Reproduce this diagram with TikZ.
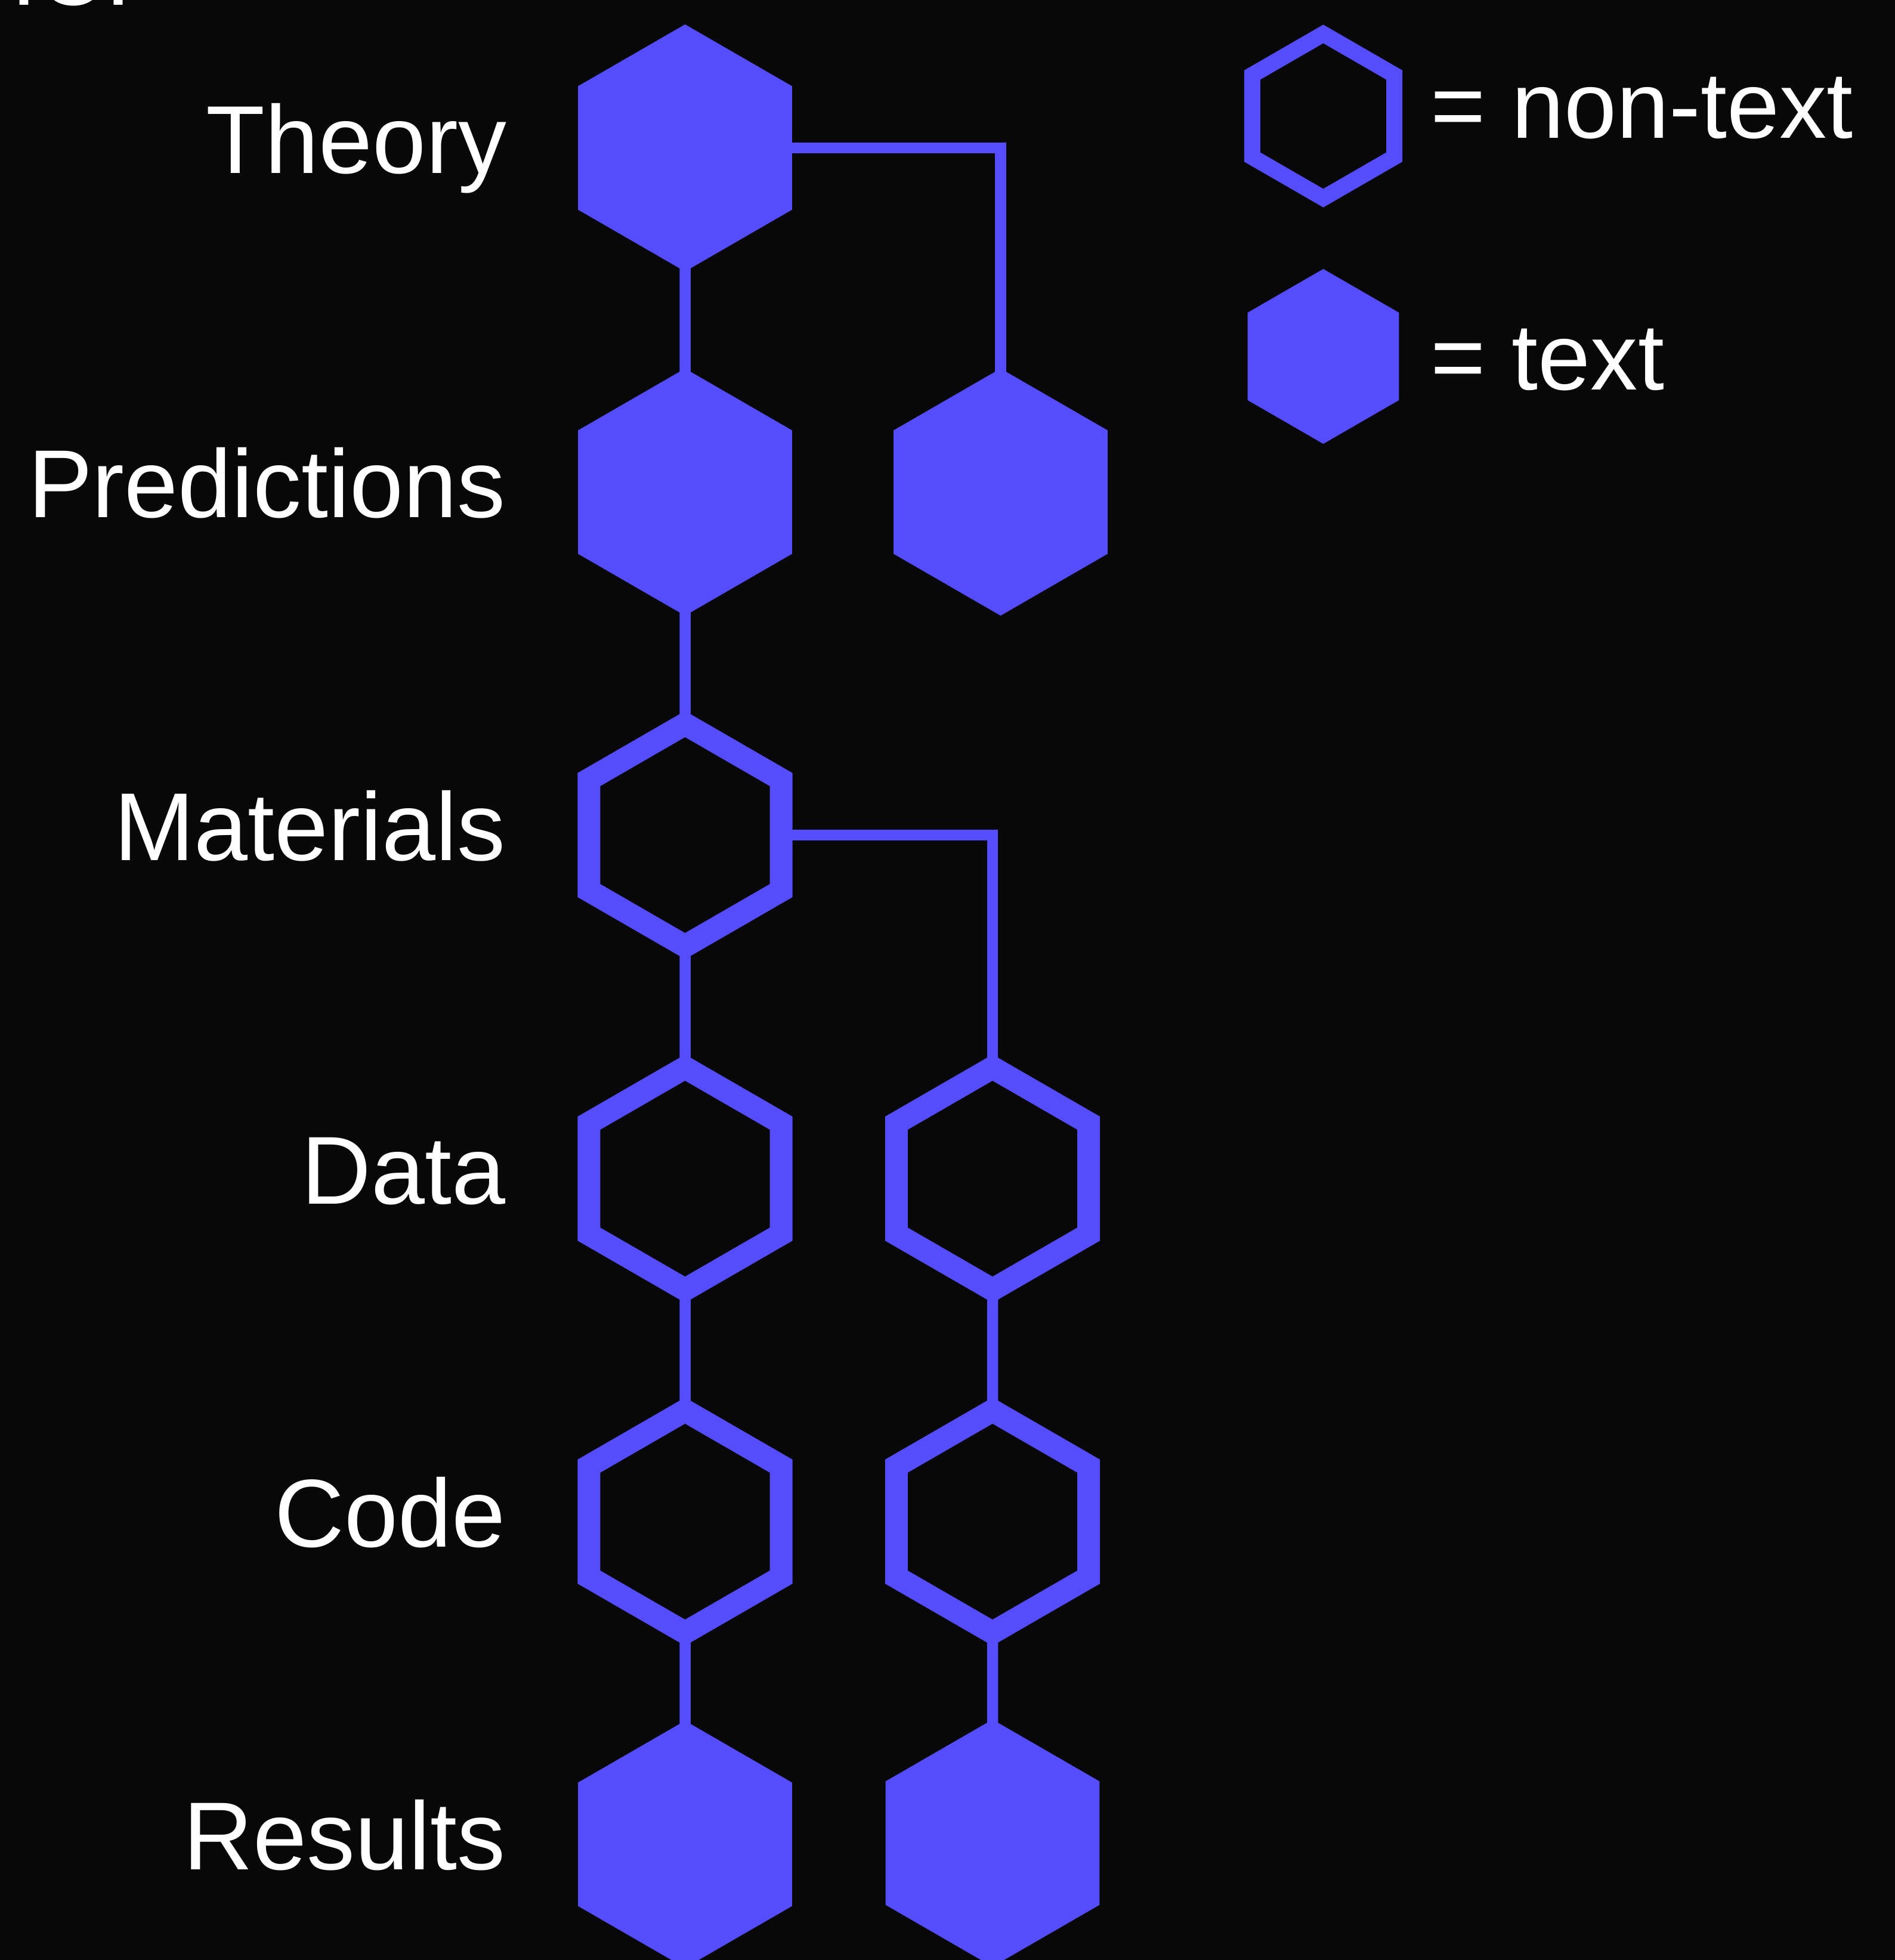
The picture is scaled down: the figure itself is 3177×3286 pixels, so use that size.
\documentclass[tikz,border=0pt]{standalone}
\usepackage{fontspec}
\setmainfont{Liberation Sans}
\usetikzlibrary{shapes.geometric}
\definecolor{bg}{RGB}{8,8,8}
\definecolor{hexblue}{RGB}{85,77,252}
\begin{document}
\begin{tikzpicture}[x=0.01cm,y=-0.01cm,
  hexfill/.style={regular polygon,regular polygon sides=6,rotate=30,minimum size=4.14cm,inner sep=0pt,outer sep=0pt,fill=hexblue,draw=none},
  hexline/.style={regular polygon,regular polygon sides=6,rotate=30,minimum size=3.72cm,inner sep=0pt,outer sep=0pt,draw=hexblue,line width=0.38cm,miter limit=10},
  conn/.style={draw=hexblue,line width=0.185cm,shorten <=-0.07cm,shorten >=-0.07cm},
  lbl/.style={text=white,anchor=base east,font=\fontsize{46pt}{50pt}\selectfont,inner sep=0pt},
  lgd/.style={text=white,anchor=base west,font=\fontsize{45pt}{50pt}\selectfont,inner sep=0pt},
]
\useasboundingbox (0,0) rectangle (3177,3286);
\clip (0,0) rectangle (3177,3286);
\fill[bg] (0,0) rectangle (3177,3286);

% cut-off heading fragment at the top edge
\node[lgd] (head) at (18,8) {IC:};

% hexagons
\node[hexfill] (theory) at (1148.5,248) {};
\node[hexfill] (pred)   at (1148.5,825) {};
\node[hexfill] (predR)  at (1677.5,825) {};
\node[hexline] (mat)    at (1148.5,1400) {};
\node[hexline] (data)   at (1148.5,1976) {};
\node[hexline] (dataR)  at (1664,1976) {};
\node[hexline] (code)   at (1148.5,2551) {};
\node[hexline] (codeR)  at (1664,2551) {};
\node[hexfill] (res)    at (1148.5,3092) {};
\node[hexfill] (resR)   at (1664,3090) {};

% connectors
\draw[conn] (theory) -- (pred);
\draw[conn] (theory) -| (predR);
\draw[conn] (pred) -- (mat);
\draw[conn] (mat) -| (dataR);
\draw[conn] (mat) -- (data);
\draw[conn] (data) -- (code);
\draw[conn] (code) -- (res);
\draw[conn] (dataR) -- (codeR);
\draw[conn] (codeR) -- (resR);

% labels
\node[lbl] (lTheory) at (850,290) {Theory};
\node[lbl] (lPred)   at (848,867) {Predictions};
\node[lbl] (lMat)    at (848,1442) {Materials};
\node[lbl] (lData)   at (848,2018) {Data};
\node[lbl] (lCode)   at (848,2593) {Code};
\node[lbl] (lRes)    at (848,3134) {Results};

% legend
\node[regular polygon,regular polygon sides=6,rotate=30,minimum size=2.75cm,inner sep=0pt,outer sep=0pt,draw=hexblue,line width=0.27cm] (legNon) at (2218.5,194.5) {};
\node[regular polygon,regular polygon sides=6,rotate=30,minimum size=2.93cm,inner sep=0pt,outer sep=0pt,fill=hexblue] (legTxt) at (2218.5,597.5) {};
\node[lgd] (legNonT) at (2398,231) {= non-text};
\node[lgd] (legTxtT) at (2398,653) {= text};
\end{tikzpicture}
\end{document}
